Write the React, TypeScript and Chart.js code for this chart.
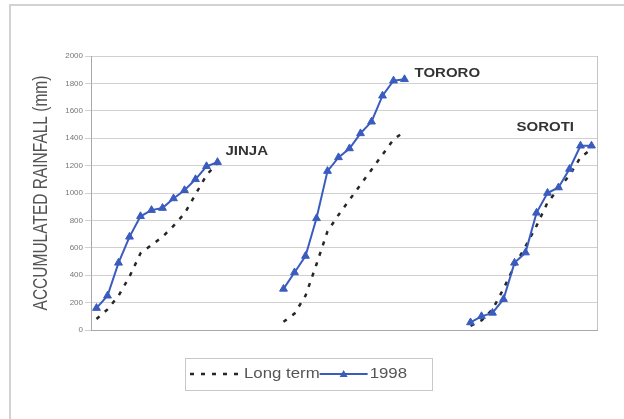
import React, { useEffect, useRef } from "react";
import { Chart, registerables } from "chart.js";

Chart.register(...registerables);

// ---- data ----
const slotCount = 46;
const stationNames = ["JINJA", "TORORO", "SOROTI"];
const stationStarts = [0, 17, 34];
const jinja1998 = [160, 250, 490, 680, 830, 875, 890, 960, 1020, 1100, 1195, 1225];
const jinjaLongTerm = [80, 150, 250, 390, 560, 620, 680, 760, 850, 990, 1130, 1220];
const tororo1998 = [300, 420, 540, 815, 1160, 1260, 1325, 1435, 1520, 1710, 1820, 1830];
const tororoLongTerm = [60, 120, 250, 480, 720, 840, 950, 1060, 1170, 1280, 1390, 1450];
const soroti1998 = [55, 100, 125, 225, 490, 565, 855, 1000, 1040, 1175, 1345, 1345];
const sorotiLongTerm = [30, 70, 150, 300, 470, 610, 760, 930, 1030, 1130, 1260, 1320];
const labelSlots = [11, 28, 38];
const labelValues = [1300, 1870, 1475];
const yMin = 0;
const yMax = 2000;
const yStep = 200;
const seriesNames = ["Long term", "1998"];
const yTitle = "ACCUMULATED RAINFALL (mm)";

const BLUE = "#3a5cbf";
const DASH = "#262626";
const FONT = "Arial, 'Liberation Sans', sans-serif";

function place(segments: number[][]): (number | null)[] {
  const arr: (number | null)[] = new Array(slotCount).fill(null);
  segments.forEach((vals, s) => {
    vals.forEach((v, i) => {
      arr[stationStarts[s] + i] = v;
    });
  });
  return arr;
}

function stretchedText(
  ctx: CanvasRenderingContext2D,
  text: string,
  x: number,
  y: number,
  font: string,
  color: string,
  sx: number
) {
  ctx.save();
  ctx.translate(x, y);
  ctx.scale(sx, 1);
  ctx.font = font;
  ctx.fillStyle = color;
  ctx.textAlign = "left";
  ctx.textBaseline = "middle";
  ctx.fillText(text, 0, 0);
  ctx.restore();
}

const decorPlugin = {
  id: "decor",
  beforeDraw(chart: any) {
    const ctx = chart.ctx as CanvasRenderingContext2D;
    ctx.save();
    ctx.fillStyle = "#ffffff";
    ctx.fillRect(0, 0, chart.width, chart.height);
    ctx.strokeStyle = "#d2d2d2";
    ctx.lineWidth = 2;
    ctx.beginPath();
    ctx.moveTo(10, chart.height);
    ctx.lineTo(10, 5);
    ctx.lineTo(chart.width, 5);
    ctx.stroke();
    ctx.restore();
  },
  afterDraw(chart: any) {
    const ctx = chart.ctx as CanvasRenderingContext2D;
    const area = chart.chartArea;
    const xs = chart.scales.x;
    const ys = chart.scales.y;

    // right border of plot area
    ctx.save();
    ctx.strokeStyle = "#c4c4c4";
    ctx.lineWidth = 1;
    ctx.beginPath();
    ctx.moveTo(Math.round(area.right) + 0.5, area.top);
    ctx.lineTo(Math.round(area.right) + 0.5, area.bottom);
    ctx.stroke();
    ctx.restore();

    // y axis title
    ctx.save();
    ctx.translate(42, (area.top + area.bottom) / 2);
    ctx.rotate(-Math.PI / 2);
    ctx.scale(1, 1.25);
    ctx.font = `15.5px ${FONT}`;
    ctx.fillStyle = "#555555";
    ctx.textAlign = "center";
    ctx.textBaseline = "middle";
    ctx.fillText(yTitle, 0, 0);
    ctx.restore();

    // station labels
    const offsets = [8, 10, 2];
    stationNames.forEach((name, i) => {
      const x = xs.getPixelForValue(labelSlots[i]) + offsets[i];
      const y = ys.getPixelForValue(labelValues[i]);
      stretchedText(ctx, name, x, y, `bold 12.5px ${FONT}`, "#333333", 1.2);
    });

    // legend
    const lx = 185;
    const ly = 358;
    const lh = 32;
    const cy = ly + lh / 2;
    const font = `14px ${FONT}`;
    const sx = 1.2;
    ctx.save();
    ctx.font = font;
    const w1 = ctx.measureText(seriesNames[0]).width * sx;
    const w2 = ctx.measureText(seriesNames[1]).width * sx;
    ctx.restore();
    let x = lx + 5;
    // dashed sample
    ctx.save();
    ctx.strokeStyle = DASH;
    ctx.lineWidth = 2.5;
    ctx.setLineDash([4, 7]);
    ctx.beginPath();
    ctx.moveTo(x, cy);
    ctx.lineTo(x + 55, cy);
    ctx.stroke();
    ctx.restore();
    x += 54;
    stretchedText(ctx, seriesNames[0], x, cy, font, "#555555", sx);
    x += w1;
    // blue sample
    ctx.save();
    ctx.strokeStyle = BLUE;
    ctx.fillStyle = BLUE;
    ctx.lineWidth = 2;
    ctx.beginPath();
    ctx.moveTo(x, cy);
    ctx.lineTo(x + 48, cy);
    ctx.stroke();
    const tx = x + 24;
    ctx.beginPath();
    ctx.moveTo(tx, cy - 4);
    ctx.lineTo(tx + 4, cy + 3);
    ctx.lineTo(tx - 4, cy + 3);
    ctx.closePath();
    ctx.fill();
    ctx.restore();
    x += 50;
    stretchedText(ctx, seriesNames[1], x, cy, font, "#555555", sx);
    x += w2 + 25;
    ctx.save();
    ctx.strokeStyle = "#c8c8c8";
    ctx.lineWidth = 1;
    ctx.strokeRect(lx + 0.5, ly + 0.5, x - lx, lh);
    ctx.restore();
  },
};

export default function App() {
  const ref = useRef<HTMLCanvasElement | null>(null);

  useEffect(() => {
    document.body.style.margin = "0";
    if (!ref.current) return;
    const labels = new Array(slotCount).fill("");
    const chart = new Chart(ref.current, {
      type: "line",
      data: {
        labels,
        datasets: [
          {
            label: seriesNames[1],
            data: place([jinja1998, tororo1998, soroti1998]),
            borderColor: BLUE,
            backgroundColor: BLUE,
            borderWidth: 2,
            pointStyle: "triangle",
            pointRadius: 4.5,
            pointBorderWidth: 1,
            pointBackgroundColor: BLUE,
            pointBorderColor: BLUE,
            spanGaps: false,
            tension: 0,
            order: 0,
          },
          {
            label: seriesNames[0],
            data: place([jinjaLongTerm, tororoLongTerm, sorotiLongTerm]),
            borderColor: DASH,
            borderWidth: 2.5,
            borderDash: [4, 7],
            pointRadius: 0,
            spanGaps: false,
            tension: 0,
            order: 1,
          },
        ],
      },
      options: {
        responsive: false,
        animation: false,
        events: [],
        layout: { padding: { top: 56, right: 27, left: 0, bottom: 0 } },
        plugins: {
          legend: { display: false },
          tooltip: { enabled: false },
        },
        scales: {
          x: {
            type: "category",
            offset: true,
            grid: { display: true, drawOnChartArea: false, drawTicks: false },
            ticks: { display: false },
            border: { display: true, color: "#a8a8a8", width: 1 },
            afterFit: (s: any) => {
              s.height = 89;
            },
          },
          y: {
            min: yMin,
            max: yMax,
            ticks: {
              stepSize: yStep,
              font: { size: 8, family: FONT },
              color: "#777777",
              padding: 2,
              callback: (v: any) => String(v),
            },
            grid: { color: "#d0d0d0", tickLength: 6, drawTicks: true },
            border: { display: true, color: "#a8a8a8" },
            afterFit: (s: any) => {
              s.width = 91;
            },
          },
        },
      },
      plugins: [decorPlugin],
    } as any);
    return () => chart.destroy();
  }, []);

  return (
    <canvas
      ref={ref}
      width={624}
      height={419}
      style={{ display: "block", width: 624, height: 419 }}
    />
  );
}
